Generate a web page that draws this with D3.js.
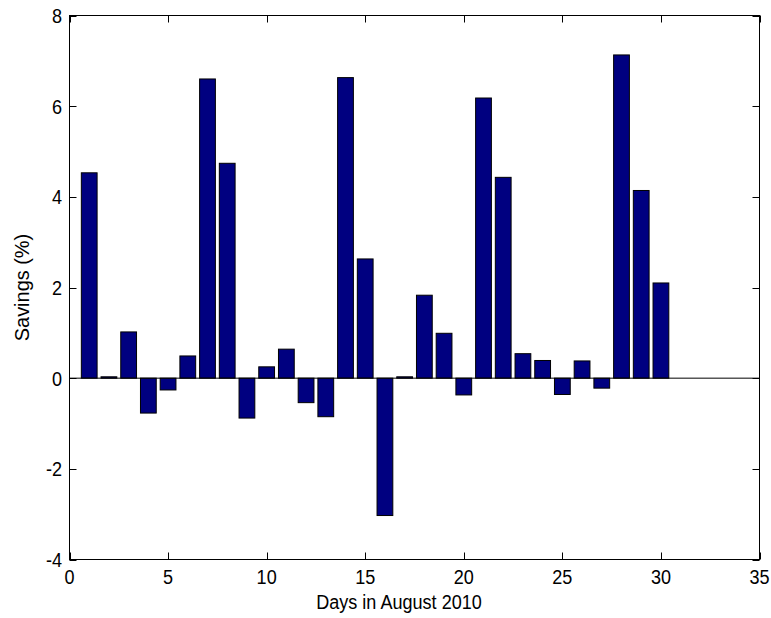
<!DOCTYPE html>
<html>
<head>
<meta charset="utf-8">
<script src="https://cdn.jsdelivr.net/npm/d3@7"></script>
<style>
  html, body { margin: 0; padding: 0; background: #fff; }
  svg { display: block; }
  text { font-family: "Liberation Sans", Arial, sans-serif; fill: #000; }
</style>
</head>
<body>
<svg id="chart" width="771" height="618"></svg>
<script>
// Daily savings in August 2010 (percent)
const days = d3.range(1, 31);
const savings = [
  4.53, 0.03, 1.02, -0.77, -0.26, 0.49, 6.60, 4.74, -0.88, 0.25,
  0.64, -0.54, -0.85, 6.63, 2.63, -3.03, 0.03, 1.83, 0.99, -0.37,
  6.18, 4.43, 0.54, 0.39, -0.36, 0.38, -0.22, 7.13, 4.14, 2.10
];
const xTicks = [0, 5, 10, 15, 20, 25, 30, 35];
const yTicks = [-4, -2, 0, 2, 4, 6, 8];
const xLabel = "Days in August 2010";
const yLabel = "Savings (%)";

const svg = d3.select("#chart");
const plotL = 69.5, plotR = 759.5, plotT = 15.5, plotB = 559.5;
const x = d3.scaleLinear().domain([0, 35]).range([plotL, plotR]);
const y = d3.scaleLinear().domain([-4, 8]).range([plotB, plotT]);
const barW = (x(1) - x(0)) * 0.8;
const tickLen = 7;
const narrow = 0.86;

// bars
svg.append("g").selectAll("rect")
  .data(days.map((d, i) => ({ day: d, v: savings[i] })))
  .join("rect")
  .attr("x", d => x(d.day) - barW / 2)
  .attr("width", barW)
  .attr("y", d => y(Math.max(0, d.v)))
  .attr("height", d => Math.abs(y(d.v) - y(0)))
  .attr("fill", "#000080")
  .attr("stroke", "#000")
  .attr("stroke-width", 1);

// baseline at zero
svg.append("line")
  .attr("x1", plotL).attr("x2", plotR)
  .attr("y1", y(0)).attr("y2", y(0))
  .attr("stroke", "#000").attr("stroke-width", 1);

// axes box with inward ticks on all sides
const axG = svg.append("g").attr("stroke", "#000").attr("stroke-width", 1).attr("fill", "none");
axG.append("rect").attr("x", plotL).attr("y", plotT)
  .attr("width", plotR - plotL).attr("height", plotB - plotT);

xTicks.forEach(t => {
  const px = Math.round(x(t)) + 0.5;
  axG.append("line").attr("x1", px).attr("x2", px).attr("y1", plotB).attr("y2", plotB - tickLen);
  axG.append("line").attr("x1", px).attr("x2", px).attr("y1", plotT).attr("y2", plotT + tickLen);
});
yTicks.forEach(t => {
  const py = Math.round(y(t)) + 0.5;
  axG.append("line").attr("x1", plotL).attr("x2", plotL + tickLen).attr("y1", py).attr("y2", py);
  axG.append("line").attr("x1", plotR).attr("x2", plotR - tickLen).attr("y1", py).attr("y2", py);
});

// tick labels
svg.append("g").selectAll("text").data(xTicks).join("text")
  .attr("transform", d => `translate(${x(d)},584) scale(${narrow},1)`)
  .attr("text-anchor", "middle")
  .style("font-size", "21px")
  .text(d => d);

svg.append("g").selectAll("text").data(yTicks).join("text")
  .attr("transform", d => `translate(62,${y(d) + 7.5}) scale(${narrow},1)`)
  .attr("text-anchor", "end")
  .style("font-size", "21px")
  .text(d => d);

// axis titles
svg.append("text")
  .attr("transform", `translate(399,609) scale(${narrow},1)`)
  .attr("text-anchor", "middle")
  .style("font-size", "21px")
  .text(xLabel);

svg.append("text")
  .attr("transform", `translate(29,${(plotT + plotB) / 2}) rotate(-90) scale(0.95,1)`)
  .attr("text-anchor", "middle")
  .style("font-size", "21px")
  .text(yLabel);
</script>
</body>
</html>
